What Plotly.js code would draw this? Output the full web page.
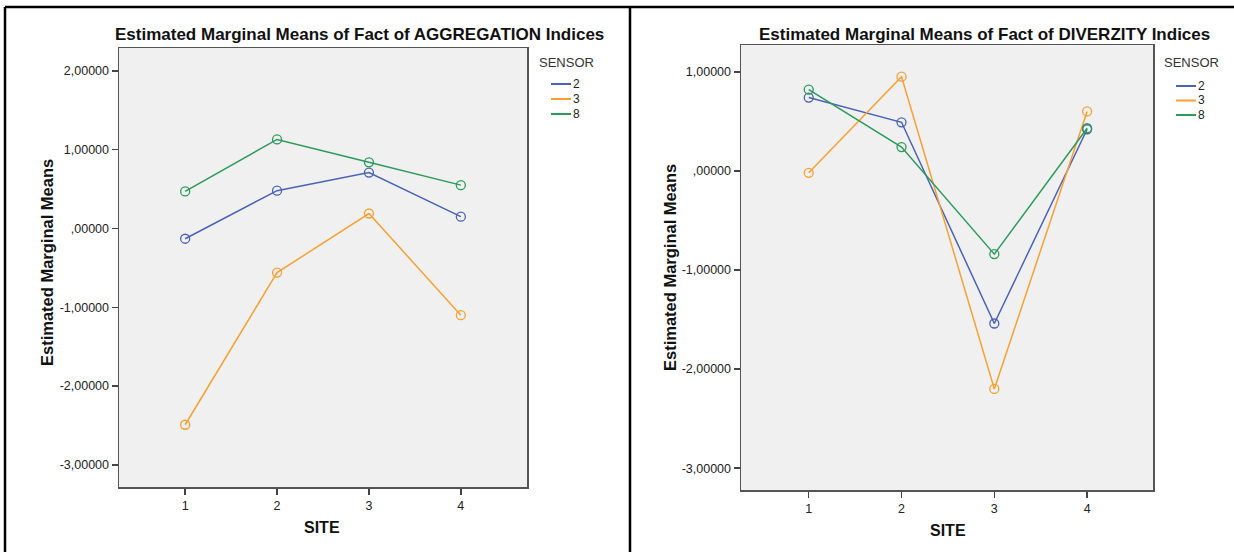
<!DOCTYPE html>
<html>
<head>
<meta charset="utf-8">
<script src="https://cdn.plot.ly/plotly-3.0.1.min.js"></script>
<style>
  html, body { margin: 0; padding: 0; background: #ffffff; }
  #chart { width: 1234px; height: 552px; }
</style>
</head>
<body>
<div id="chart"></div>
<script>
// Site levels on the x axis
const sites = [1, 2, 3, 4];
const siteLabels = ['1', '2', '3', '4'];

// Sensor groups
const sensors = ['2', '3', '8'];
const sensorColors = ['#4a62b8', '#f8a033', '#2b9a5a'];

// Estimated marginal means, AGGREGATION indices
const aggSensor2 = [-0.13, 0.48, 0.71, 0.15];
const aggSensor3 = [-2.49, -0.56, 0.19, -1.10];
const aggSensor8 = [0.47, 1.13, 0.84, 0.55];

// Estimated marginal means, DIVERZITY indices
const divSensor2 = [0.74, 0.49, -1.54, 0.42];
const divSensor3 = [-0.02, 0.95, -2.20, 0.60];
const divSensor8 = [0.82, 0.24, -0.84, 0.43];

// Y tick values and their comma-decimal labels
const aggTickVals = [2, 1, 0, -1, -2, -3];
const aggTickText = ['2,00000', '1,00000', ',00000', '-1,00000', '-2,00000', '-3,00000'];
const divTickVals = [1, 0, -1, -2, -3];
const divTickText = ['1,00000', ',00000', '-1,00000', '-2,00000', '-3,00000'];

const panelTitles = [
  'Estimated Marginal Means of Fact of AGGREGATION Indices',
  'Estimated Marginal Means of Fact of DIVERZITY Indices'
];
const yTitle = 'Estimated Marginal Means';
const xTitle = 'SITE';
const legendTitle = 'SENSOR';

const W = 1234, H = 552;
const px = v => v / W;
const py = v => 1 - v / H;
const FONT = 'Liberation Sans, Arial, sans-serif';

function series(vals, i, xa, ya) {
  return {
    x: sites, y: vals, xaxis: xa, yaxis: ya,
    type: 'scatter', mode: 'lines+markers', showlegend: false,
    name: sensors[i],
    line: { color: sensorColors[i], width: 1.5 },
    marker: { symbol: 'circle-open', size: 9, color: sensorColors[i], line: { width: 1.3 } },
    hoverinfo: 'x+y+name'
  };
}

const traces = [
  series(aggSensor2, 0, 'x', 'y'),
  series(aggSensor3, 1, 'x', 'y'),
  series(aggSensor8, 2, 'x', 'y'),
  series(divSensor2, 0, 'x2', 'y2'),
  series(divSensor3, 1, 'x2', 'y2'),
  series(divSensor8, 2, 'x2', 'y2')
];

function xAxis(domain) {
  return {
    domain: domain, range: [0.28, 4.72],
    tickvals: sites, ticktext: siteLabels,
    ticks: 'outside', ticklen: 6, tickwidth: 1.5, tickcolor: '#444',
    showgrid: false, zeroline: false,
    showline: true, mirror: true, linecolor: '#555', linewidth: 1.5,
    tickfont: { family: FONT, size: 12.5, color: '#222' }, fixedrange: true
  };
}
function yAxis(domain, range, vals, text) {
  return {
    domain: domain, range: range,
    tickvals: vals, ticktext: text,
    ticks: 'outside', ticklen: 6, tickwidth: 1.5, tickcolor: '#444',
    showgrid: false, zeroline: false,
    showline: true, mirror: true, linecolor: '#555', linewidth: 1.5,
    tickfont: { family: FONT, size: 12.5, color: '#222' }, fixedrange: true
  };
}

const annotations = [];
const shapes = [];

// Panel titles and axis titles
[[360, 34, 0], [984, 35, 1]].forEach(([cx, cy, k]) => {
  annotations.push({ xref: 'paper', yref: 'paper', x: px(cx), y: py(cy), text: '<b>' + panelTitles[k] + '</b>',
    showarrow: false, xanchor: 'center', yanchor: 'middle', font: { family: FONT, size: 17, color: '#111' } });
});
[[47, 263], [670, 268]].forEach(([cx, cy]) => {
  annotations.push({ xref: 'paper', yref: 'paper', x: px(cx), y: py(cy), text: '<b>' + yTitle + '</b>',
    textangle: -90, showarrow: false, xanchor: 'center', yanchor: 'middle', font: { family: FONT, size: 16.5, color: '#111' } });
});
[[322, 527], [948, 530]].forEach(([cx, cy]) => {
  annotations.push({ xref: 'paper', yref: 'paper', x: px(cx), y: py(cy), text: '<b>' + xTitle + '</b>',
    showarrow: false, xanchor: 'center', yanchor: 'middle', font: { family: FONT, size: 16, color: '#111' } });
});

// Legends: heading, colour swatch line and sensor label per group
[[537, 62, 84, 15], [1162, 63, 86, 14.5]].forEach(([lx, ty, y0, gap]) => {
  annotations.push({ xref: 'paper', yref: 'paper', x: px(lx), y: py(ty), text: legendTitle,
    showarrow: false, xanchor: 'left', yanchor: 'middle', font: { family: FONT, size: 13, color: '#333' } });
  sensors.forEach((s, i) => {
    const yy = y0 + i * gap;
    shapes.push({ type: 'line', xref: 'paper', yref: 'paper', x0: px(lx + 14), x1: px(lx + 34), y0: py(yy), y1: py(yy),
      line: { color: sensorColors[i], width: 2 } });
    annotations.push({ xref: 'paper', yref: 'paper', x: px(lx + 34), y: py(yy), text: s,
      showarrow: false, xanchor: 'left', yanchor: 'middle', font: { family: FONT, size: 12, color: '#222' } });
  });
});

// Outer frame lines around the two panels
[[5, 7, 5, H], [5, 7, W, 7], [630, 7, 630, H]].forEach(([x0, y0, x1, y1]) => {
  shapes.push({ type: 'line', xref: 'paper', yref: 'paper', x0: px(x0), y0: py(y0), x1: px(x1), y1: py(y1),
    line: { color: '#000', width: 2.5 } });
});

const layout = {
  width: W, height: H,
  margin: { l: 0, r: 0, t: 0, b: 0 },
  paper_bgcolor: '#ffffff',
  plot_bgcolor: '#f0f0f0',
  showlegend: false,
  font: { family: FONT },
  xaxis: Object.assign(xAxis([px(119), px(527)]), { anchor: 'y' }),
  yaxis: Object.assign(yAxis([py(487), py(48)], [-3.28, 2.29], aggTickVals, aggTickText), { anchor: 'x' }),
  xaxis2: Object.assign(xAxis([px(741), px(1153)]), { anchor: 'y2', range: [0.27, 4.71] }),
  yaxis2: Object.assign(yAxis([py(490), py(45)], [-3.22, 1.27], divTickVals, divTickText), { anchor: 'x2' }),
  annotations: annotations,
  shapes: shapes
};

Plotly.newPlot('chart', traces, layout, { displayModeBar: false, staticPlot: true });
</script>
</body>
</html>
